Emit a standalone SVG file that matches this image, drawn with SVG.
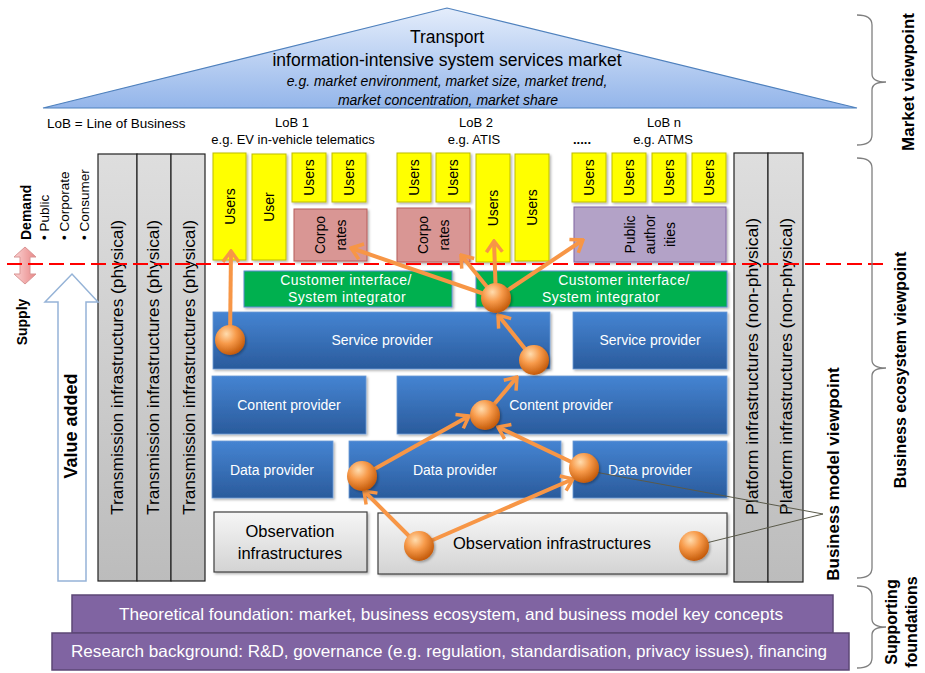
<svg xmlns="http://www.w3.org/2000/svg" width="925" height="673" viewBox="0 0 925 673">
<defs>
<linearGradient id="gTri" x1="0" y1="0" x2="0" y2="1"><stop offset="0" stop-color="#e4edfb"/><stop offset="1" stop-color="#93b5ea"/></linearGradient>
<linearGradient id="gGray" x1="0" y1="0" x2="0" y2="1"><stop offset="0" stop-color="#dedede"/><stop offset="1" stop-color="#bcbcbc"/></linearGradient>
<linearGradient id="gObs" x1="0" y1="0" x2="0" y2="1"><stop offset="0" stop-color="#f6f6f6"/><stop offset="1" stop-color="#d3d3d3"/></linearGradient>
<linearGradient id="gBlue" x1="0" y1="0" x2="0" y2="1"><stop offset="0" stop-color="#4584d2"/><stop offset="1" stop-color="#2a5b9c"/></linearGradient>
<linearGradient id="gPink" x1="0" y1="0" x2="1" y2="0"><stop offset="0" stop-color="#fbd3d3"/><stop offset="1" stop-color="#e88686"/></linearGradient>
<radialGradient id="gDot" cx="0.38" cy="0.3" r="0.72"><stop offset="0" stop-color="#ffdcae"/><stop offset="0.45" stop-color="#f79a4a"/><stop offset="1" stop-color="#c25808"/></radialGradient>
<filter id="sh" x="-10%" y="-10%" width="130%" height="130%"><feDropShadow dx="1.5" dy="1.5" stdDeviation="1" flood-color="#000" flood-opacity="0.3"/></filter>
<marker id="ah" markerUnits="userSpaceOnUse" viewBox="-14 -10 16 20" refX="0" refY="0" markerWidth="16" markerHeight="20" orient="auto"><path d="M-11,-8 L0,0 L-11,8" fill="none" stroke="#f79646" stroke-width="3.5"/></marker>
</defs>
<style>
text{font-family:"Liberation Sans",Arial,sans-serif;fill:#000}
.usr{fill:#ffff00;stroke:#bdbd00;stroke-width:1}
.corp{fill:#d99694;stroke:#b65c5a;stroke-width:1}
.pub{fill:#b3a2c7;stroke:#8064a2;stroke-width:1}
.rt{font-size:14px;text-anchor:middle;dominant-baseline:central}
.grn{fill:#00b050;stroke:#5b8ad0;stroke-width:1}
.gt{font-size:14px;fill:#fff;text-anchor:middle;letter-spacing:0.5px}
.blue{fill:url(#gBlue);stroke:#6b9bd6;stroke-width:0.8}
.bt{font-size:14px;fill:#fff;text-anchor:middle}
.obs{fill:url(#gObs);stroke:#404040;stroke-width:1.2}
.ot{font-size:16.5px;text-anchor:middle}
.col{fill:url(#gGray);stroke:#222;stroke-width:1.2}
.ct{font-size:16.5px;text-anchor:middle;dominant-baseline:central}
.fnd{fill:#8064a2;stroke:#5c4776;stroke-width:1.5}
.ft{font-size:16.5px;fill:#fff;text-anchor:middle}
.brace{fill:none;stroke:#7f7f7f;stroke-width:1.3}
.vp{font-size:16px;font-weight:bold;text-anchor:middle;dominant-baseline:central}
.lob{font-size:13px;text-anchor:middle}
.conn{stroke:#f79646;stroke-width:4;fill:none;marker-end:url(#ah)}
.dot{fill:url(#gDot);filter:url(#sh)}
</style>

<g id="market">
<polygon points="43,108 447,8 857,108" fill="url(#gTri)" stroke="#4f81bd" stroke-width="1.2"/>
<text x="447" y="43" font-size="17.5" text-anchor="middle">Transport</text>
<text x="447" y="66" font-size="17.5" text-anchor="middle">information-intensive system services market</text>
<text x="447" y="86" font-size="14" font-style="italic" text-anchor="middle">e.g. market environment, market size, market trend,</text>
<text x="448" y="105" font-size="14" font-style="italic" text-anchor="middle">market concentration, market share</text>
</g>

<g id="lob-labels">
<text x="47" y="128" font-size="13.5">LoB = Line of Business</text>
<text class="lob" x="292" y="127">LoB 1</text>
<text class="lob" x="293" y="144">e.g. EV in-vehicle telematics</text>
<text class="lob" x="476" y="127">LoB 2</text>
<text class="lob" x="474" y="144">e.g. ATIS</text>
<text class="lob" x="582" y="144" font-weight="bold">.....</text>
<text class="lob" x="664" y="127">LoB n</text>
<text class="lob" x="663" y="144">e.g. ATMS</text>
</g>

<g id="transmission">
<rect class="col" x="98" y="154" width="39" height="427"/>
<rect class="col" x="137" y="154" width="34" height="427"/>
<rect class="col" x="171" y="154" width="34" height="427"/>
<text class="ct" transform="translate(117,367.5) rotate(-90)" textLength="295" lengthAdjust="spacingAndGlyphs">Transmission infrastructures (physical)</text>
<text class="ct" transform="translate(153,367.5) rotate(-90)" textLength="295" lengthAdjust="spacingAndGlyphs">Transmission infrastructures (physical)</text>
<text class="ct" transform="translate(189,367.5) rotate(-90)" textLength="295" lengthAdjust="spacingAndGlyphs">Transmission infrastructures (physical)</text>
</g>

<g id="platform">
<rect class="col" x="734" y="153" width="34" height="429"/>
<rect class="col" x="768" y="153" width="35" height="429"/>
<text class="ct" transform="translate(752,366.5) rotate(-90)" textLength="297" lengthAdjust="spacingAndGlyphs">Platform infrastructures (non-physical)</text>
<text class="ct" transform="translate(786,366.5) rotate(-90)" textLength="297" lengthAdjust="spacingAndGlyphs">Platform infrastructures (non-physical)</text>
</g>

<g id="users-lob1">
<rect class="usr" x="213" y="153" width="33" height="107" filter="url(#sh)"/>
<text class="rt" transform="translate(229.5,206.5) rotate(-90)">Users</text>
<rect class="usr" x="252" y="154" width="34" height="106" filter="url(#sh)"/>
<text class="rt" transform="translate(269,207) rotate(-90)">User</text>
<rect class="usr" x="292" y="153" width="34" height="49" filter="url(#sh)"/>
<text class="rt" transform="translate(309,177.5) rotate(-90)">Users</text>
<rect class="usr" x="332" y="153" width="34" height="49" filter="url(#sh)"/>
<text class="rt" transform="translate(349,177.5) rotate(-90)">Users</text>
</g>
<g id="corporates-lob1">
<rect class="corp" x="294" y="209" width="73" height="52" filter="url(#sh)"/>
<text class="rt" transform="translate(320,235) rotate(-90)">Corpo</text>
<text class="rt" transform="translate(341,235) rotate(-90)">rates</text>
</g>

<g id="users-lob2">
<rect class="usr" x="397" y="153" width="34" height="49" filter="url(#sh)"/>
<text class="rt" transform="translate(414,177.5) rotate(-90)">Users</text>
<rect class="usr" x="436" y="153" width="34" height="49" filter="url(#sh)"/>
<text class="rt" transform="translate(453,177.5) rotate(-90)">Users</text>
<rect class="usr" x="476" y="154" width="34" height="108" filter="url(#sh)"/>
<text class="rt" transform="translate(493,208) rotate(-90)">Users</text>
<rect class="usr" x="515" y="154" width="34" height="107" filter="url(#sh)"/>
<text class="rt" transform="translate(532,207.5) rotate(-90)">Users</text>
</g>
<g id="corporates-lob2">
<rect class="corp" x="397" y="208" width="73" height="54" filter="url(#sh)"/>
<text class="rt" transform="translate(423,235) rotate(-90)">Corpo</text>
<text class="rt" transform="translate(444,235) rotate(-90)">rates</text>
</g>

<g id="users-lobn">
<rect class="usr" x="572" y="153" width="34" height="49" filter="url(#sh)"/>
<text class="rt" transform="translate(589,177.5) rotate(-90)">Users</text>
<rect class="usr" x="612" y="153" width="34" height="49" filter="url(#sh)"/>
<text class="rt" transform="translate(629,177.5) rotate(-90)">Users</text>
<rect class="usr" x="652" y="153" width="34" height="49" filter="url(#sh)"/>
<text class="rt" transform="translate(669,177.5) rotate(-90)">Users</text>
<rect class="usr" x="692" y="153" width="34" height="49" filter="url(#sh)"/>
<text class="rt" transform="translate(709,177.5) rotate(-90)">Users</text>
</g>
<g id="public-authorities">
<rect class="pub" x="574" y="207" width="152" height="55" filter="url(#sh)"/>
<text class="rt" transform="translate(630,234.5) rotate(-90)">Public</text>
<text class="rt" transform="translate(650,234.5) rotate(-90)">author</text>
<text class="rt" transform="translate(670,234.5) rotate(-90)">ities</text>
</g>

<g id="customer-interface-1">
<rect class="grn" x="244" y="271" width="208" height="36" filter="url(#sh)"/>
<text class="gt" x="346" y="285">Customer interface/</text>
<text class="gt" x="347" y="302">System integrator</text>
</g>
<g id="customer-interface-2">
<rect class="grn" x="476" y="271" width="251" height="36" filter="url(#sh)"/>
<text class="gt" x="624" y="285">Customer interface/</text>
<text class="gt" x="601" y="302">System integrator</text>
</g>

<g id="service-provider-1"><rect class="blue" x="213" y="312" width="337" height="57" filter="url(#sh)"/><text class="bt" x="382" y="345">Service provider</text></g>
<g id="service-provider-2"><rect class="blue" x="573" y="312" width="154" height="57" filter="url(#sh)"/><text class="bt" x="650" y="345">Service provider</text></g>
<g id="content-provider-1"><rect class="blue" x="212" y="376" width="154" height="58" filter="url(#sh)"/><text class="bt" x="289" y="410">Content provider</text></g>
<g id="content-provider-2"><rect class="blue" x="397" y="376" width="330" height="58" filter="url(#sh)"/><text class="bt" x="561" y="410">Content provider</text></g>
<g id="data-provider-1"><rect class="blue" x="212" y="441" width="121" height="57" filter="url(#sh)"/><text class="bt" x="272" y="474.5">Data provider</text></g>
<g id="data-provider-2"><rect class="blue" x="349" y="441" width="212" height="57" filter="url(#sh)"/><text class="bt" x="455" y="474.5">Data provider</text></g>
<g id="data-provider-3"><rect class="blue" x="573" y="441" width="154" height="57" filter="url(#sh)"/><text class="bt" x="650" y="474.5">Data provider</text></g>

<g id="observation-1"><rect class="obs" x="214" y="512" width="153" height="60" filter="url(#sh)"/>
<text class="ot" x="290" y="537">Observation</text><text class="ot" x="290" y="559">infrastructures</text></g>
<g id="observation-2"><rect class="obs" x="378" y="513" width="349" height="61" filter="url(#sh)"/>
<text class="ot" x="552" y="549">Observation infrastructures</text></g>

<g id="demand-supply">
<text class="vp" style="font-size:14px;text-anchor:start" transform="translate(26,240) rotate(-90)">Demand</text>
<text style="font-size:13.5px;dominant-baseline:central" transform="translate(44,240) rotate(-90)">• Public</text>
<text style="font-size:13.5px;dominant-baseline:central" transform="translate(64,240) rotate(-90)">• Corporate</text>
<text style="font-size:13.5px;dominant-baseline:central" transform="translate(84,240) rotate(-90)">• Consumer</text>
<polygon points="25,247 36,257 30,257 30,274 36,274 25,284 14,274 20,274 20,257 14,257" fill="url(#gPink)" stroke="#d99594" stroke-width="1"/>
<text class="vp" style="font-size:14px" transform="translate(22,322) rotate(-90)">Supply</text>
</g>

<g id="value-added">
<polygon points="58,581 58,302 45,302 72,274 98,302 86,302 86,581" fill="#fff" stroke="#95b3d7" stroke-width="1.5"/>
<text class="vp" style="font-size:18px" transform="translate(71,426) rotate(-90)">Value added</text>
</g>

<line id="supply-demand-line" x1="7" y1="264" x2="885" y2="264" stroke="#ff0000" stroke-width="2" stroke-dasharray="15 6"/>

<g id="connectors">
<line class="conn" x1="230" y1="340" x2="231" y2="251"/>
<line class="conn" x1="496" y1="298" x2="351" y2="248"/>
<line class="conn" x1="496" y1="298" x2="461" y2="255"/>
<line class="conn" x1="496" y1="298" x2="494" y2="241"/>
<line class="conn" x1="496" y1="298" x2="583" y2="240"/>
<line class="conn" x1="534" y1="360" x2="498" y2="315"/>
<line class="conn" x1="485" y1="415" x2="517" y2="377"/>
<line class="conn" x1="362" y1="476" x2="469" y2="416"/>
<line class="conn" x1="584" y1="468" x2="498" y2="427"/>
<line class="conn" x1="419" y1="546" x2="364" y2="491"/>
<line class="conn" x1="419" y1="546" x2="573" y2="479"/>
<path d="M584,470 L823,514 L694,546" fill="none" stroke="#5a5a4a" stroke-width="1"/>
</g>

<g id="dots">
<circle class="dot" cx="230" cy="340" r="15"/>
<circle class="dot" cx="496" cy="298" r="15"/>
<circle class="dot" cx="534" cy="360" r="15"/>
<circle class="dot" cx="485" cy="415" r="15"/>
<circle class="dot" cx="362" cy="476" r="15"/>
<circle class="dot" cx="584" cy="468" r="15"/>
<circle class="dot" cx="419" cy="546" r="15"/>
<circle class="dot" cx="694" cy="546" r="15"/>
</g>

<text id="business-model-label" class="vp" style="font-size:17px" transform="translate(833,474) rotate(-90)">Business model viewpoint</text>

<g id="foundations">
<rect class="fnd" x="72" y="595" width="761" height="38"/>
<text class="ft" x="451" y="620" textLength="664" lengthAdjust="spacingAndGlyphs">Theoretical foundation: market, business ecosystem, and business model key concepts</text>
<rect class="fnd" x="52" y="633" width="797" height="37"/>
<text class="ft" x="449" y="657" textLength="756" lengthAdjust="spacingAndGlyphs">Research background: R&amp;D, governance (e.g. regulation, standardisation, privacy issues), financing</text>
</g>

<g id="viewpoints">
<path class="brace" d="M857,15 Q872,15 872,25 L872,74 Q872,82 886,82 Q872,82 872,90 L872,135 Q872,145 857,145"/>
<text class="vp" style="font-size:17px" transform="translate(908,82) rotate(-90)">Market viewpoint</text>
<path class="brace" d="M857,158 Q872,158 872,168 L872,360 Q872,368 886,368 Q872,368 872,376 L872,568 Q872,578 857,578"/>
<text class="vp" transform="translate(900,370) rotate(-90)">Business ecosystem viewpoint</text>
<path class="brace" d="M857,586 Q872,586 872,596 L872,619 Q872,627 886,627 Q872,627 872,635 L872,658 Q872,668 857,668"/>
<text class="vp" transform="translate(891,622) rotate(-90)">Supporting</text>
<text class="vp" transform="translate(911,622) rotate(-90)">foundations</text>
</g>
</svg>
